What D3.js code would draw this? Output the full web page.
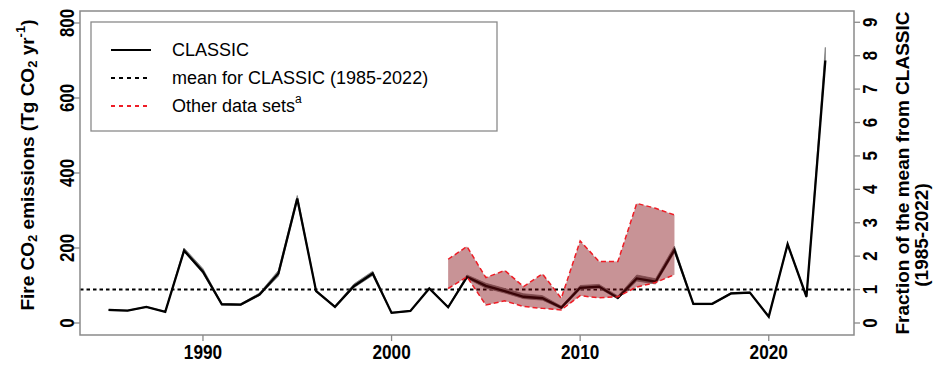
<!DOCTYPE html>
<html>
<head>
<meta charset="utf-8">
<script src="https://cdn.jsdelivr.net/npm/d3@7"></script>
<style>
  body { margin: 0; background: #fff; }
  svg { display: block; }
  text { font-family: "Liberation Sans", Arial, Helvetica, sans-serif; fill: #000; }
</style>
</head>
<body>
<svg id="chart" width="947" height="365"></svg>
<script>
// Annual fire CO2 emissions (Tg CO2 / yr)
const years = [1985, 1986, 1987, 1988, 1989, 1990, 1991, 1992, 1993, 1994,
               1995, 1996, 1997, 1998, 1999, 2000, 2001, 2002, 2003, 2004,
               2005, 2006, 2007, 2008, 2009, 2010, 2011, 2012, 2013, 2014,
               2015, 2016, 2017, 2018, 2019, 2020, 2021, 2022, 2023];
const classic = [35, 33, 43, 30, 193, 137, 50, 49, 76, 132,
                 332, 85, 43, 98, 132, 27, 32, 92, 42, 123,
                 99, 85, 70, 66, 41, 94, 97, 67, 119, 110,
                 195, 51, 51, 79, 81, 17, 210, 70, 700];
// CLASSIC ensemble envelope
const classicLow = [33, 32, 42, 29, 190, 132, 48, 47, 73, 125,
                    325, 83, 42, 94, 127, 26, 31, 91, 40, 119,
                    93, 80, 65, 61, 38, 90, 93, 64, 112, 104,
                    188, 49, 49, 77, 79, 16, 207, 68, 695];
const classicHigh = [36, 34, 44, 31, 200, 145, 52, 51, 80, 140,
                     340, 88, 45, 104, 138, 29, 33, 94, 44, 128,
                     106, 92, 78, 73, 45, 100, 103, 72, 128, 118,
                     205, 52, 52, 81, 83, 19, 213, 72, 735];
// Range spanned by the other data sets
const otherYears = [2003, 2004, 2005, 2006, 2007, 2008, 2009, 2010, 2011, 2012, 2013, 2014, 2015];
const otherLow  = [92, 123, 48, 59, 44, 39, 35, 73, 67, 70, 96, 108, 129];
const otherHigh = [170, 204, 121, 140, 97, 131, 66, 219, 164, 164, 319, 306, 288];

const leftTicks = [0, 200, 400, 600, 800];
const rightTicks = [0, 1, 2, 3, 4, 5, 6, 7, 8, 9];
const xTicks = [1990, 2000, 2010, 2020];

// Mean of CLASSIC over 1985-2022
const classicMean = d3.mean(classic.filter((v, i) => years[i] <= 2022));

const svg = d3.select("#chart");
const plotLeft = 80, plotRight = 854, plotTop = 11, plotBottom = 335;

const xPad = (d3.max(years) - d3.min(years)) * 0.04;
const x = d3.scaleLinear()
  .domain([d3.min(years) - xPad, d3.max(years) + xPad])
  .range([plotLeft, plotRight]);
const y = d3.scaleLinear().domain([-32, 832]).range([plotBottom, plotTop]);

// text helper: position, rotation and squeeze along the reading direction
function label(g, str, tx, ty, opts) {
  const o = Object.assign({ rot: 0, sx: 1, size: 16, weight: "bold", anchor: "middle" }, opts);
  return g.append("text")
    .attr("transform", `translate(${tx},${ty}) rotate(${o.rot}) scale(${o.sx},1)`)
    .attr("text-anchor", o.anchor)
    .attr("dominant-baseline", "central")
    .attr("font-size", o.size)
    .attr("font-weight", o.weight)
    .text(str);
}

const plot = svg.append("g");

// mean line
plot.append("line")
  .attr("x1", plotLeft).attr("x2", plotRight)
  .attr("y1", y(classicMean)).attr("y2", y(classicMean))
  .attr("stroke", "#000").attr("stroke-width", 2)
  .attr("stroke-dasharray", "3.5,3");

// CLASSIC envelope and line
const idx = d3.range(years.length);
plot.append("path")
  .datum(idx)
  .attr("d", d3.area().x(i => x(years[i])).y0(i => y(classicLow[i])).y1(i => y(classicHigh[i])))
  .attr("fill", "#7a7a7a").attr("stroke", "#7a7a7a").attr("stroke-width", 0.8);

plot.append("path")
  .datum(idx)
  .attr("d", d3.line().x(i => x(years[i])).y(i => y(classic[i])))
  .attr("fill", "none").attr("stroke", "#000").attr("stroke-width", 2.3)
  .attr("stroke-linejoin", "miter");

// other data sets range
const oidx = d3.range(otherYears.length);
plot.append("path")
  .datum(oidx)
  .attr("d", d3.area().x(i => x(otherYears[i])).y0(i => y(otherLow[i])).y1(i => y(otherHigh[i])))
  .attr("fill", "rgb(130,10,15)").attr("fill-opacity", 0.44);

[otherLow, otherHigh].forEach(arr => {
  plot.append("path")
    .datum(oidx)
    .attr("d", d3.line().x(i => x(otherYears[i])).y(i => y(arr[i])))
    .attr("fill", "none").attr("stroke", "#ee1c25").attr("stroke-width", 1.5)
    .attr("stroke-dasharray", "5,3");
});

// frame
svg.append("rect")
  .attr("x", plotLeft).attr("y", plotTop)
  .attr("width", plotRight - plotLeft).attr("height", plotBottom - plotTop)
  .attr("fill", "none").attr("stroke", "#8a8a8a").attr("stroke-width", 1.5);

const axes = svg.append("g");
const tickColor = "#8a8a8a";

// left axis
leftTicks.forEach(v => {
  axes.append("line").attr("x1", plotLeft - 6).attr("x2", plotLeft).attr("y1", y(v)).attr("y2", y(v))
    .attr("stroke", tickColor).attr("stroke-width", 1.3);
  label(axes, v, 67, y(v), { rot: -90, size: 21, sx: 0.8 });
});

// right axis: multiples of the CLASSIC mean
rightTicks.forEach(k => {
  const yy = y(k * classicMean);
  axes.append("line").attr("x1", plotRight).attr("x2", plotRight + 6).attr("y1", yy).attr("y2", yy)
    .attr("stroke", tickColor).attr("stroke-width", 1.3);
  label(axes, k, 870, yy, { rot: -90, size: 21, sx: 0.8 });
});

// bottom axis
xTicks.forEach(v => {
  axes.append("line").attr("x1", x(v)).attr("x2", x(v)).attr("y1", plotBottom).attr("y2", plotBottom + 6)
    .attr("stroke", tickColor).attr("stroke-width", 1.3);
  label(axes, v, x(v), 352, { size: 21, sx: 0.82 });
});

// axis titles
const lt = axes.append("text")
  .attr("transform", `translate(27,165) rotate(-90)`)
  .attr("text-anchor", "middle").attr("dominant-baseline", "central")
  .attr("font-size", 19).attr("font-weight", "bold");
lt.append("tspan").text("Fire CO");
lt.append("tspan").attr("font-size", 13).attr("dy", 5).text("2");
lt.append("tspan").attr("dy", -5).text(" emissions (Tg CO");
lt.append("tspan").attr("font-size", 13).attr("dy", 5).text("2");
lt.append("tspan").attr("dy", -5).text(" yr");
lt.append("tspan").attr("font-size", 13).attr("dy", -7).text("-1");
lt.append("tspan").attr("dy", 7).text(")");

label(axes, "Fraction of the mean from CLASSIC", 902, 173, { rot: -90, size: 19 });
label(axes, "(1985-2022)", 921, 235, { rot: -90, size: 19 });

// legend
const lg = svg.append("g");
lg.append("rect").attr("x", 91).attr("y", 22).attr("width", 406).attr("height", 109)
  .attr("fill", "#fff").attr("stroke", "#8a8a8a").attr("stroke-width", 1.3);
const legendItems = [
  { name: "CLASSIC", stroke: "#000", dash: null, y: 50 },
  { name: "mean for CLASSIC (1985-2022)", stroke: "#000", dash: "4,4", y: 78 },
  { name: "Other data sets", stroke: "#ee1c25", dash: "4,4", y: 106, sup: "a" }
];
legendItems.forEach(d => {
  lg.append("line").attr("x1", 111).attr("x2", 151).attr("y1", d.y).attr("y2", d.y)
    .attr("stroke", d.stroke).attr("stroke-width", 2.2)
    .attr("stroke-dasharray", d.dash);
  const t = lg.append("text").attr("x", 172).attr("y", d.y)
    .attr("dominant-baseline", "central").attr("font-size", 18).text(d.name);
  if (d.sup) t.append("tspan").attr("font-size", 12).attr("dy", -7).text(d.sup);
});
</script>
</body>
</html>
